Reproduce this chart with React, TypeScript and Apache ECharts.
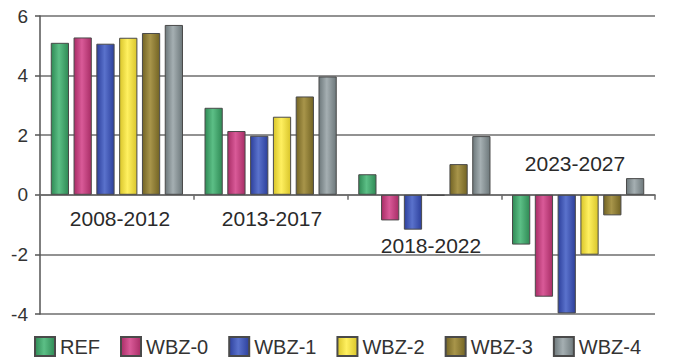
import React, { useEffect, useRef } from "react";
import * as echarts from "echarts";

const categories = ["2008-2012", "2013-2017", "2018-2022", "2023-2027"];
const seriesNames = ["REF", "WBZ-0", "WBZ-1", "WBZ-2", "WBZ-3", "WBZ-4"];
const REF = [5.1, 2.92, 0.69, -1.67];
const WBZ0 = [5.28, 2.14, -0.86, -3.42];
const WBZ1 = [5.07, 1.98, -1.17, -3.98];
const WBZ2 = [5.27, 2.62, -0.03, -2.01];
const WBZ3 = [5.43, 3.3, 1.03, -0.69];
const WBZ4 = [5.7, 3.97, 1.97, 0.56];
const yTicks = [-4, -2, 0, 2, 4, 6];

const palette = [
  ["#2f8a55", "#5cbf86"],
  ["#a82d66", "#d95a98"],
  ["#2d409c", "#5a72cc"],
  ["#d9c52a", "#fff060"],
  ["#736424", "#a8954a"],
  ["#6d787b", "#a5afb2"],
];

export default function App() {
  const ref = useRef<HTMLDivElement>(null);
  useEffect(() => {
    if (!ref.current) return;
    const chart = echarts.init(ref.current, undefined, { renderer: "svg" });
    const values = [REF, WBZ0, WBZ1, WBZ2, WBZ3, WBZ4];
    const font = "Liberation Sans, Arial, sans-serif";
    const labelPos = [
      [120, 218],
      [272, 218],
      [431, 245],
      [575, 163],
    ];
    chart.setOption({
      animation: false,
      backgroundColor: "#ffffff",
      grid: { left: 40, right: 21, top: 16, bottom: 44, containLabel: false },
      legend: {
        data: seriesNames,
        left: 34,
        top: 336,
        padding: 0,
        itemGap: 20,
        itemWidth: 20,
        itemHeight: 19,
        icon: "rect",
        textStyle: { fontSize: 20, lineHeight: 20, color: "#333", fontFamily: font },
      },
      xAxis: {
        type: "category",
        data: categories,
        axisLine: { show: true, onZero: true, lineStyle: { color: "#6a6a6a", width: 1.5 } },
        axisTick: { show: true, length: 5, lineStyle: { color: "#6a6a6a", width: 1.5 } },
        axisLabel: { show: false },
        splitLine: { show: false },
      },
      yAxis: {
        type: "value",
        min: -4,
        max: 6,
        interval: 2,
        axisLine: { show: true, lineStyle: { color: "#555", width: 1.5 } },
        axisTick: { show: true, length: 5, lineStyle: { color: "#555", width: 1.5 } },
        axisLabel: {
          fontSize: 19,
          color: "#333",
          fontFamily: font,
          margin: 12,
          formatter: (v: number) => (yTicks.includes(v) ? String(v) : ""),
        },
        splitLine: { show: true, lineStyle: { color: "#6e6e6e", width: 1.5 } },
      },
      series: values.map((d, i) => ({
        type: "bar",
        name: seriesNames[i],
        data: d,
        barGap: "25%",
        barCategoryGap: "14%",
        itemStyle: {
          color: new echarts.graphic.LinearGradient(0, 0, 1, 0, [
            { offset: 0, color: palette[i][0] },
            { offset: 0.45, color: palette[i][1] },
            { offset: 1, color: palette[i][0] },
          ]),
          borderColor: "#4a4a4a",
          borderWidth: 1,
        },
      })),
      graphic: categories.map((c, i) => ({
        type: "text",
        x: labelPos[i][0],
        y: labelPos[i][1],
        style: {
          text: c,
          fontSize: 21,
          fontFamily: font,
          fill: "#2a2a2a",
          textAlign: "center",
          textVerticalAlign: "middle",
        },
        z: 10,
      })),
    });
    return () => chart.dispose();
  }, []);
  return <div ref={ref} style={{ width: 676, height: 358, position: "absolute", left: 0, top: 0 }} />;
}
